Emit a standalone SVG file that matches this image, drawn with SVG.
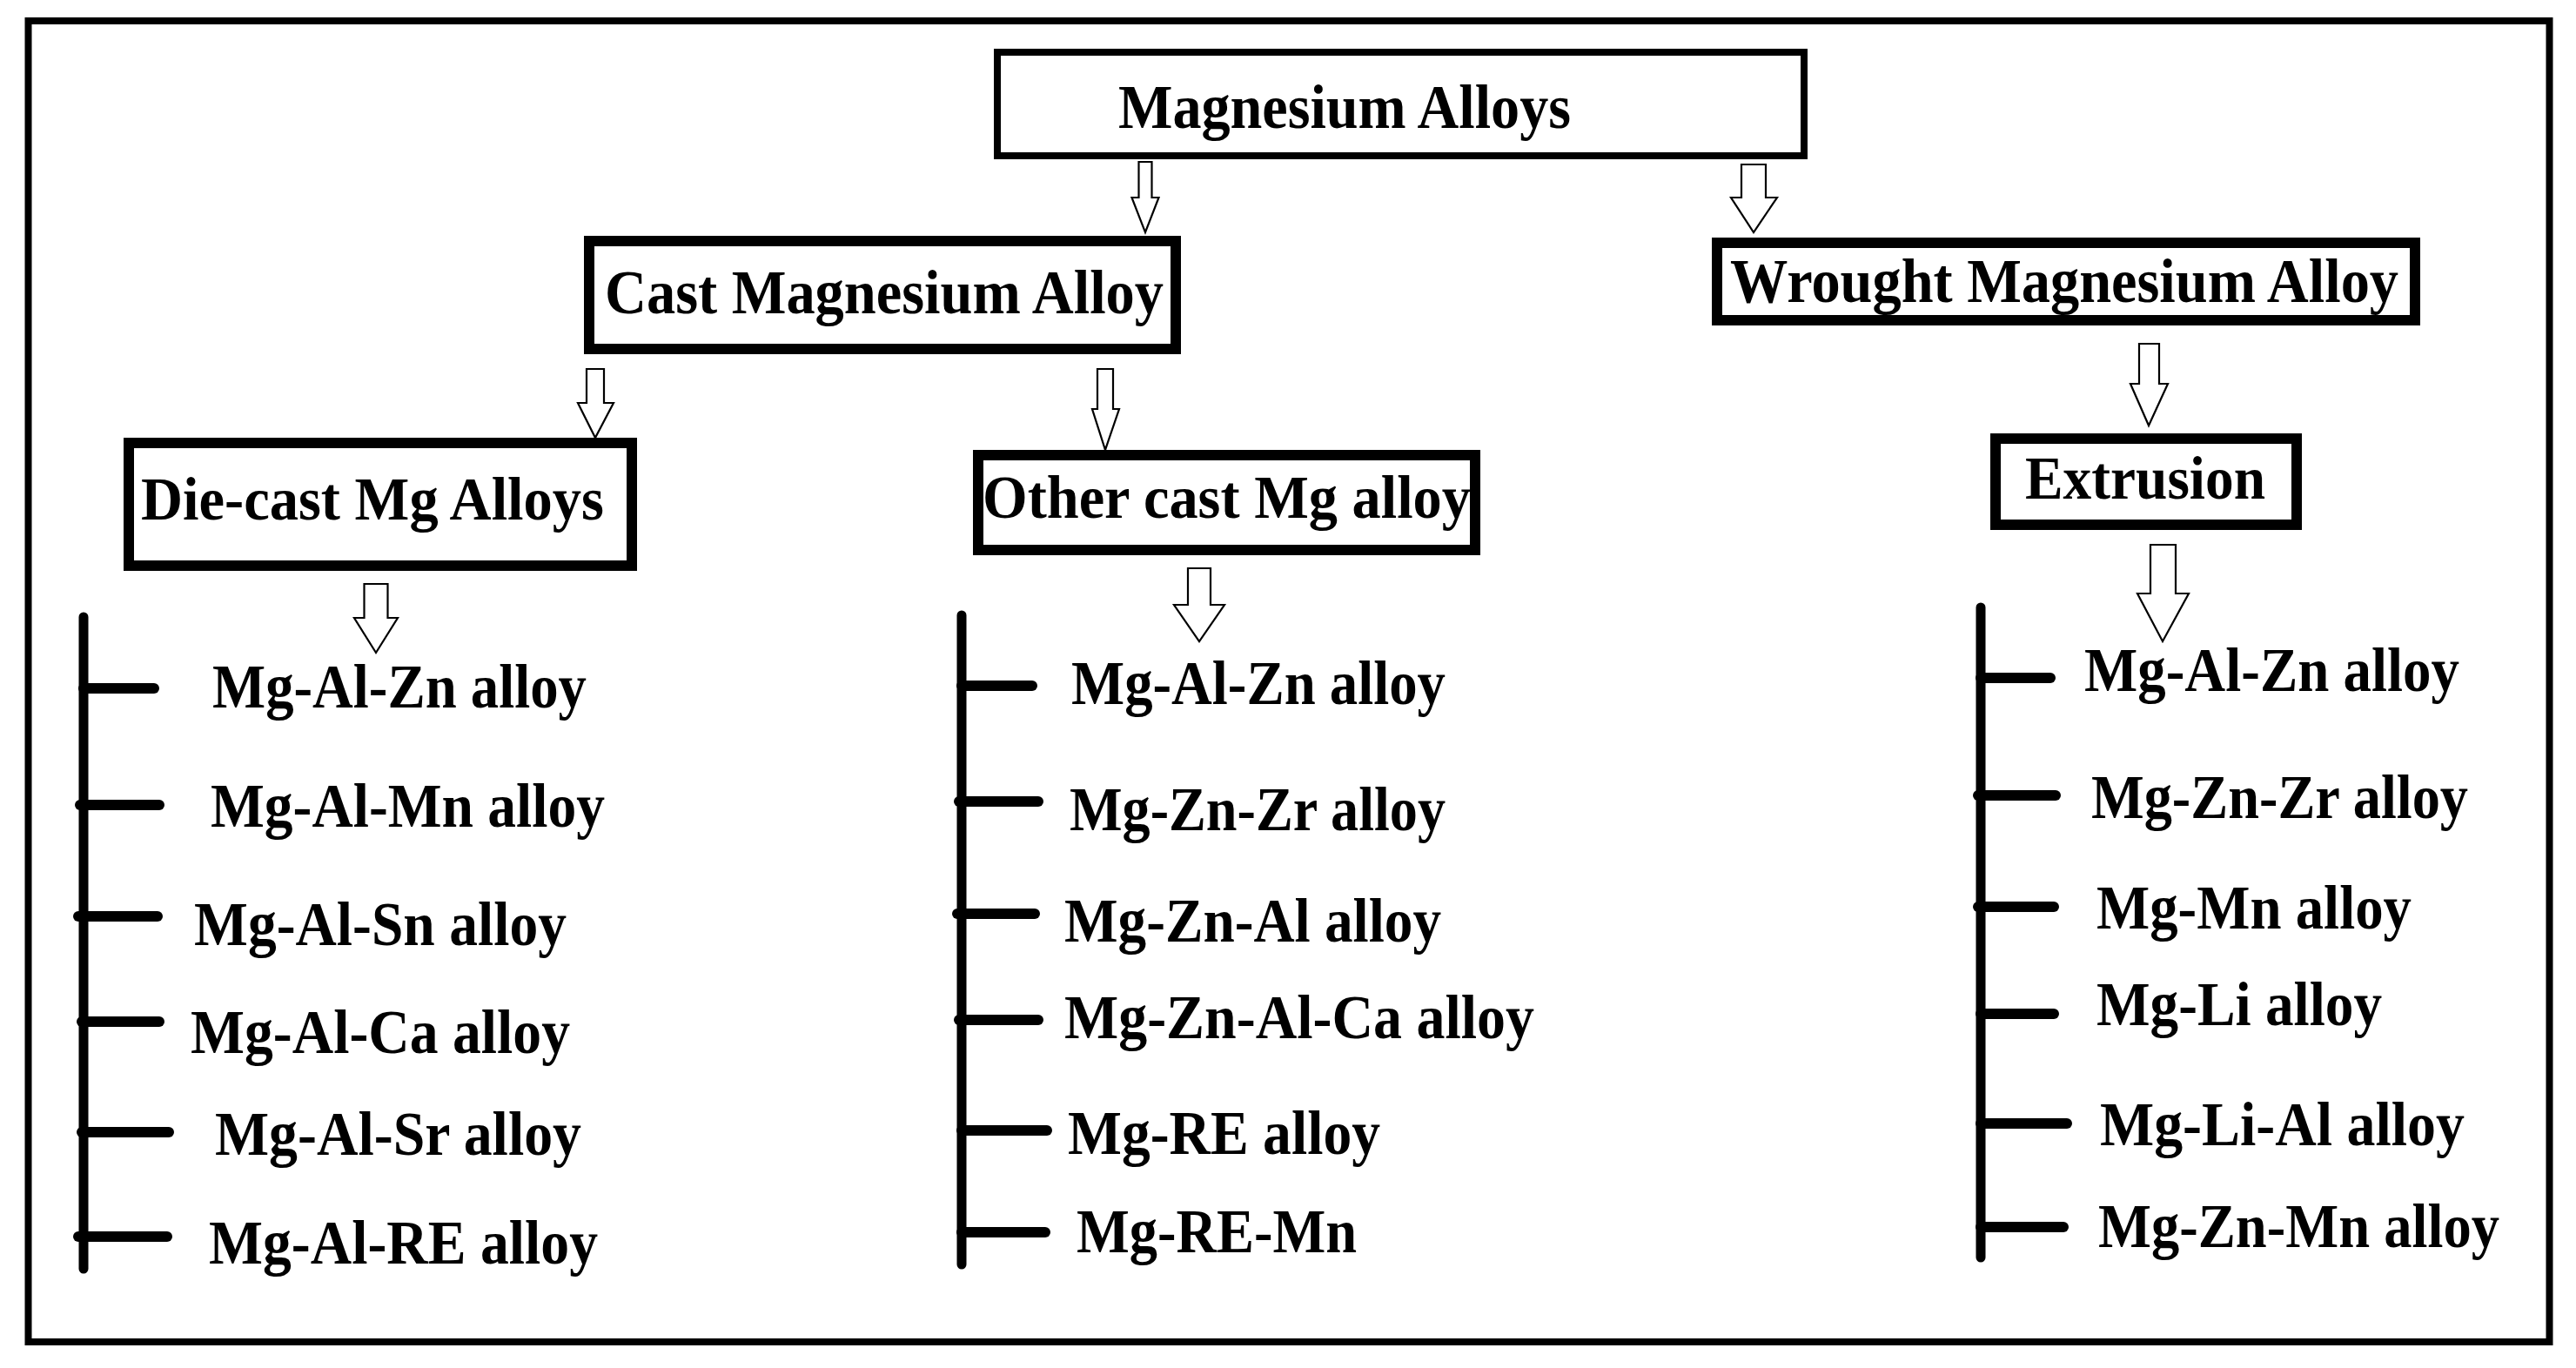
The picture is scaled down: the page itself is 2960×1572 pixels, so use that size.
<svg xmlns="http://www.w3.org/2000/svg" width="2960" height="1572" viewBox="0 0 2960 1572">
<style>
  .t { font-family: "Liberation Serif", "Times New Roman", serif; font-weight: bold; font-size: 72px; fill: #000; }
  .t2 { font-family: "Liberation Serif", "Times New Roman", serif; font-weight: bold; font-size: 70px; fill: #000; }
  .box { fill: #fff; stroke: #000; stroke-width: 12; }
  .box0 { fill: #fff; stroke: #000; stroke-width: 8; }
  .arr { fill: #fff; stroke: #000; stroke-width: 2.2; stroke-linejoin: miter; }
  .ln { stroke: #000; stroke-width: 11; stroke-linecap: round; fill: none; }
  .tk { stroke: #000; stroke-width: 12; stroke-linecap: round; fill: none; }
</style>
<rect x="0" y="0" width="2960" height="1572" fill="#fff"/>
<rect x="32.5" y="24" width="2897" height="1518" fill="none" stroke="#000" stroke-width="8"/>

<g id="connectors">
  <polygon class="arr" points="1308.5,186 1323.5,186 1323.5,227 1331.5,227 1316,267 1300.5,227 1308.5,227"/>
  <polygon class="arr" points="2001,189 2029,189 2029,227 2042,227 2015,267 1989,227 2001,227"/>
  <polygon class="arr" points="674,424 694,424 694,463 705,463 684,503 664,463 674,463"/>
  <polygon class="arr" points="1261,424 1279,424 1279,470 1286,470 1270,517 1255,470 1261,470"/>
  <polygon class="arr" points="418.5,671 445.5,671 445.5,710 457,710 432,750 407,710 418.5,710"/>
  <polygon class="arr" points="1365,653 1391,653 1391,695 1407,695 1378,737 1349,695 1365,695"/>
  <polygon class="arr" points="2458,395 2481,395 2481,441 2491,441 2469,489 2448,441 2458,441"/>
  <polygon class="arr" points="2471,626 2500,626 2500,682 2515,682 2485,737 2456,682 2471,682"/>
</g>

<g id="magnesium-alloys">
  <rect class="box0" x="1146" y="60" width="927" height="119"/>
  <text class="t" x="1285" y="147" textLength="520" lengthAdjust="spacingAndGlyphs">Magnesium Alloys</text>
</g>
<g id="cast-magnesium-alloy">
  <rect class="box" x="677" y="277" width="674" height="124"/>
  <text class="t" x="695" y="360" textLength="642" lengthAdjust="spacingAndGlyphs">Cast Magnesium Alloy</text>
</g>
<g id="wrought-magnesium-alloy">
  <rect class="box" x="1973" y="279" width="802" height="89"/>
  <text class="t" x="1988" y="347" textLength="768" lengthAdjust="spacingAndGlyphs">Wrought Magnesium Alloy</text>
</g>
<g id="die-cast-mg-alloys">
  <rect class="box" x="148" y="509" width="578" height="141"/>
  <text class="t2" x="162" y="597" textLength="532" lengthAdjust="spacingAndGlyphs">Die-cast Mg Alloys</text>
</g>
<g id="other-cast-mg-alloy">
  <rect class="box" x="1124" y="523" width="571" height="109"/>
  <text class="t2" x="1129" y="595" textLength="561" lengthAdjust="spacingAndGlyphs">Other cast Mg alloy</text>
</g>
<g id="extrusion">
  <rect class="box" x="2293" y="504" width="346" height="99"/>
  <text class="t2" x="2327" y="573" textLength="276" lengthAdjust="spacingAndGlyphs">Extrusion</text>
</g>

<g id="die-cast-list">
  <line class="ln" x1="96" y1="709" x2="96" y2="1458"/>
  <line class="tk" x1="96" y1="791" x2="177" y2="791"/>
  <line class="tk" x1="92" y1="925" x2="183" y2="925"/>
  <line class="tk" x1="90" y1="1053" x2="181" y2="1053"/>
  <line class="tk" x1="94" y1="1174" x2="183" y2="1174"/>
  <line class="tk" x1="94" y1="1301" x2="194" y2="1301"/>
  <line class="tk" x1="90" y1="1421" x2="192" y2="1421"/>
  <text class="t" x="244" y="813" textLength="430" lengthAdjust="spacingAndGlyphs">Mg-Al-Zn alloy</text>
  <text class="t" x="242" y="950" textLength="453" lengthAdjust="spacingAndGlyphs">Mg-Al-Mn alloy</text>
  <text class="t" x="223" y="1086" textLength="428" lengthAdjust="spacingAndGlyphs">Mg-Al-Sn alloy</text>
  <text class="t" x="219" y="1210" textLength="436" lengthAdjust="spacingAndGlyphs">Mg-Al-Ca alloy</text>
  <text class="t" x="247" y="1327" textLength="421" lengthAdjust="spacingAndGlyphs">Mg-Al-Sr alloy</text>
  <text class="t" x="240" y="1452" textLength="447" lengthAdjust="spacingAndGlyphs">Mg-Al-RE alloy</text>
</g>

<g id="other-cast-list">
  <line class="ln" x1="1105" y1="707" x2="1105" y2="1453"/>
  <line class="tk" x1="1105" y1="788" x2="1186" y2="788"/>
  <line class="tk" x1="1102" y1="921" x2="1193" y2="921"/>
  <line class="tk" x1="1100" y1="1050" x2="1189" y2="1050"/>
  <line class="tk" x1="1102" y1="1172" x2="1193" y2="1172"/>
  <line class="tk" x1="1105" y1="1299" x2="1203" y2="1299"/>
  <line class="tk" x1="1105" y1="1416" x2="1201" y2="1416"/>
  <text class="t" x="1231" y="809" textLength="430" lengthAdjust="spacingAndGlyphs">Mg-Al-Zn alloy</text>
  <text class="t" x="1229" y="954" textLength="432" lengthAdjust="spacingAndGlyphs">Mg-Zn-Zr alloy</text>
  <text class="t" x="1223" y="1082" textLength="433" lengthAdjust="spacingAndGlyphs">Mg-Zn-Al alloy</text>
  <text class="t" x="1223" y="1193" textLength="540" lengthAdjust="spacingAndGlyphs">Mg-Zn-Al-Ca alloy</text>
  <text class="t" x="1227" y="1326" textLength="359" lengthAdjust="spacingAndGlyphs">Mg-RE alloy</text>
  <text class="t" x="1237" y="1439" textLength="322" lengthAdjust="spacingAndGlyphs">Mg-RE-Mn</text>
</g>

<g id="extrusion-list">
  <line class="ln" x1="2276" y1="698" x2="2276" y2="1445"/>
  <line class="tk" x1="2276" y1="779" x2="2356" y2="779"/>
  <line class="tk" x1="2273" y1="914" x2="2362" y2="914"/>
  <line class="tk" x1="2273" y1="1042" x2="2360" y2="1042"/>
  <line class="tk" x1="2276" y1="1165" x2="2360" y2="1165"/>
  <line class="tk" x1="2276" y1="1291" x2="2375" y2="1291"/>
  <line class="tk" x1="2276" y1="1410" x2="2371" y2="1410"/>
  <text class="t" x="2395" y="794" textLength="431" lengthAdjust="spacingAndGlyphs">Mg-Al-Zn alloy</text>
  <text class="t" x="2403" y="940" textLength="433" lengthAdjust="spacingAndGlyphs">Mg-Zn-Zr alloy</text>
  <text class="t" x="2409" y="1067" textLength="362" lengthAdjust="spacingAndGlyphs">Mg-Mn alloy</text>
  <text class="t" x="2409" y="1178" textLength="328" lengthAdjust="spacingAndGlyphs">Mg-Li alloy</text>
  <text class="t" x="2413" y="1316" textLength="419" lengthAdjust="spacingAndGlyphs">Mg-Li-Al alloy</text>
  <text class="t" x="2411" y="1433" textLength="461" lengthAdjust="spacingAndGlyphs">Mg-Zn-Mn alloy</text>
</g>
</svg>
